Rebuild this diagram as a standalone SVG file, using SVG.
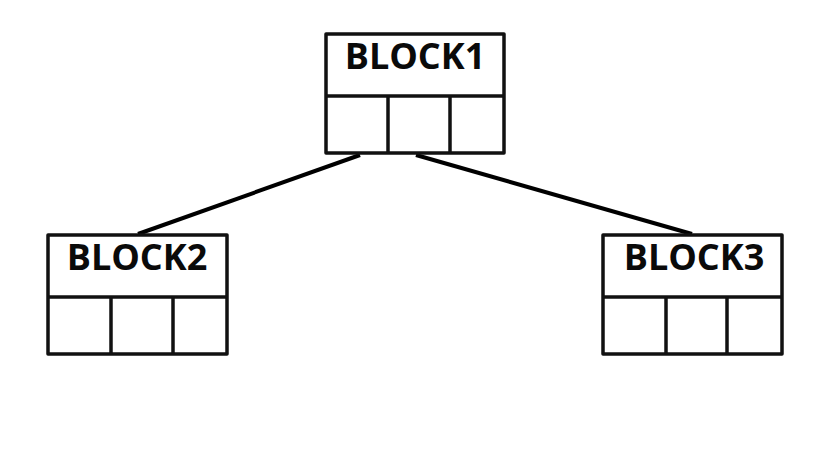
<svg xmlns="http://www.w3.org/2000/svg" width="831" height="467" viewBox="0 0 831 467">
<style>
.box{fill:#fff;stroke:#111;stroke-width:3.5;stroke-linejoin:round}
.div{stroke:#111;stroke-width:3.5}
.lbl{font-family:"Open Sans","DejaVu Sans",sans-serif;font-weight:bold;font-size:36px;fill:#0a0a0a;text-anchor:middle}
.con{stroke:#000;stroke-width:4;fill:none;stroke-linecap:butt}
</style>
<rect width="831" height="467" fill="#fff"/>
<g id="connectors">
<line class="con" x1="360" y1="155" x2="138" y2="234"/>
<line class="con" x1="416" y1="155" x2="692" y2="234"/>
</g>
<g id="block1">
<rect class="box" x="326" y="34" width="178" height="119"/>
<line class="div" x1="326" y1="96" x2="504" y2="96"/>
<line class="div" x1="388" y1="96" x2="388" y2="153"/>
<line class="div" x1="450" y1="96" x2="450" y2="153"/>
<text class="lbl" x="415" y="69">BLOCK1</text>
</g>
<g id="block2">
<rect class="box" x="48" y="235" width="179" height="119"/>
<line class="div" x1="48" y1="297" x2="227" y2="297"/>
<line class="div" x1="111" y1="297" x2="111" y2="354"/>
<line class="div" x1="173" y1="297" x2="173" y2="354"/>
<text class="lbl" x="137" y="270">BLOCK2</text>
</g>
<g id="block3">
<rect class="box" x="603" y="235" width="179" height="119"/>
<line class="div" x1="603" y1="297" x2="782" y2="297"/>
<line class="div" x1="666" y1="297" x2="666" y2="354"/>
<line class="div" x1="727" y1="297" x2="727" y2="354"/>
<text class="lbl" x="694" y="270">BLOCK3</text>
</g>
</svg>
